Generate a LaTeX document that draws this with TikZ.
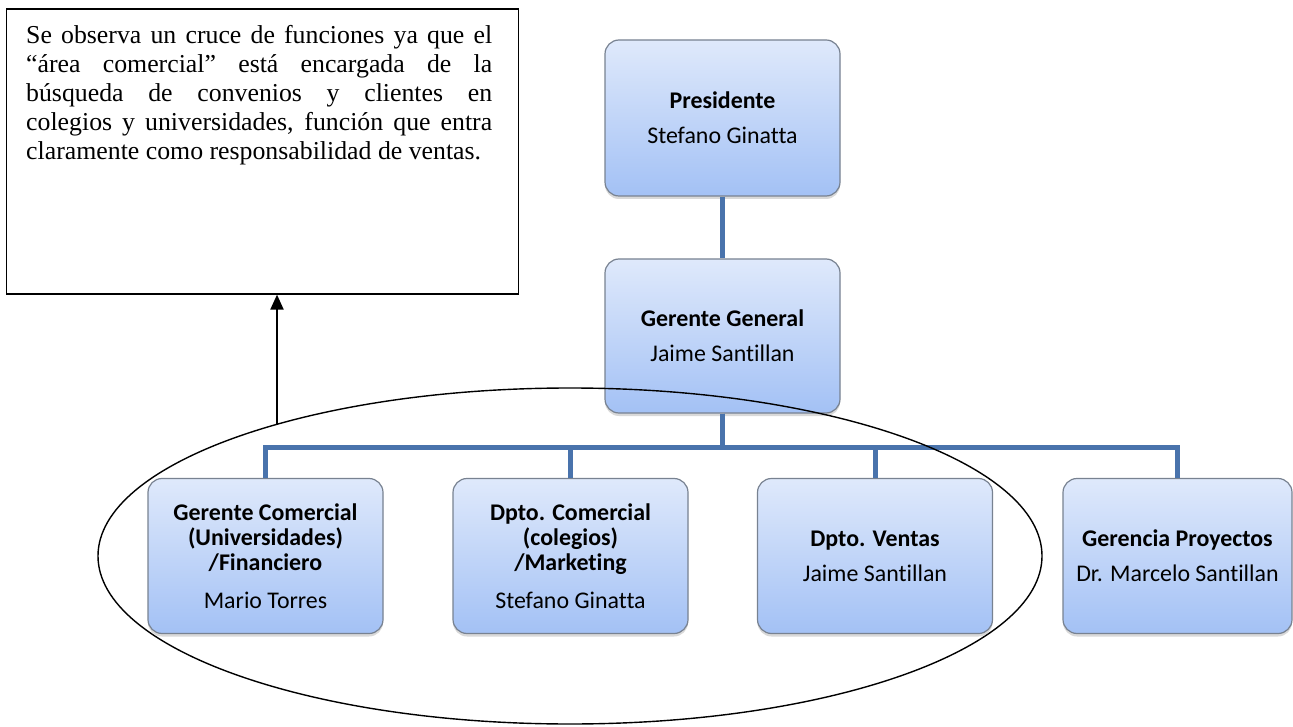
\documentclass[tikz,border=0pt]{standalone}
\usepackage{fontspec}
\setmainfont{Liberation Serif}
\newfontfamily\boxfont[Ligatures=NoCommon]{Carlito}
\usetikzlibrary{shadows,arrows.meta,shapes.geometric}
\definecolor{linkblue}{RGB}{73,115,172}
\definecolor{boxtop}{RGB}{223,233,251}
\definecolor{boxbot}{RGB}{163,193,245}
\definecolor{boxedge}{RGB}{120,130,145}
\begin{document}
\begin{tikzpicture}[x=1pt,y=-1pt,
  orgbox/.style={rounded corners=14pt, draw=boxedge, line width=1.2pt,
    top color=boxtop, bottom color=boxbot,
    minimum width=235pt, minimum height=155pt, align=center, inner sep=0pt,
    font=\boxfont\fontsize{23.9}{25}\selectfont,
    drop shadow={opacity=0.3, shadow xshift=0pt, shadow yshift=-3pt}},
  conn/.style={draw=linkblue, line width=5pt},
  notebox/.style={draw=black, line width=1.6pt, minimum width=512pt, minimum height=285pt, inner sep=0pt},
  notetxt/.style={text width=466pt, inner sep=0pt, align=justify, font=\fontsize{25.8}{29}\selectfont},
  oval/.style={draw=black, line width=1.4pt, ellipse, minimum width=944pt, minimum height=336pt, inner sep=0pt},
  uparrow/.style={draw=black, line width=2pt, -{Triangle[length=15pt,width=13pt]}}
]
\useasboundingbox (0,0) rectangle (1293,727);

% note box
\node[notebox, anchor=north west] (note) at (5.5,8) {};
\node[notetxt, anchor=north west] (notetext) at (26,25.5) {Se observa un cruce de funciones ya que el\linebreak “área comercial” está encargada de la\linebreak búsqueda de convenios y clientes en\linebreak colegios y universidades, función que entra\linebreak claramente como responsabilidad de ventas.};

% org boxes
\node[orgbox, minimum height=156pt] (pres) at (722.5,118) {\textbf{Presidente}\\[10pt]Stefano Ginatta};
\node[orgbox, minimum height=154pt] (gg) at (722.5,336) {\textbf{Gerente General}\\[10pt]Jaime Santillan};
\node[orgbox] (b1) at (265.5,556) {\textbf{Gerente Comercial}\\\textbf{(Universidades)}\\\textbf{/Financiero}\\[13pt]Mario Torres};
\node[orgbox] (b2) at (570.5,556) {\textbf{Dpto. Comercial}\\\textbf{(colegios)}\\\textbf{/Marketing}\\[13pt]Stefano Ginatta};
\node[orgbox] (b3) at (875,556) {\textbf{Dpto. Ventas}\\[10pt]Jaime Santillan};
\node[orgbox, minimum width=229pt] (b4) at (1177.5,556) {\textbf{Gerencia Proyectos}\\[10pt]Dr. Marcelo Santillan};

% connectors
\coordinate (bar) at (0,447);
\draw[conn] (pres.south) -- (gg.north);
\foreach \b in {b1,b2,b3,b4}
  \draw[conn] (gg.south) -- (gg.south |- bar) -| (\b.north);

% ellipse
\node[oval] (circ) at (570,556) {};

% arrow
\coordinate (astart) at (277,424);
\draw[uparrow] (astart) -- (astart |- note.south);
\end{tikzpicture}
\end{document}
